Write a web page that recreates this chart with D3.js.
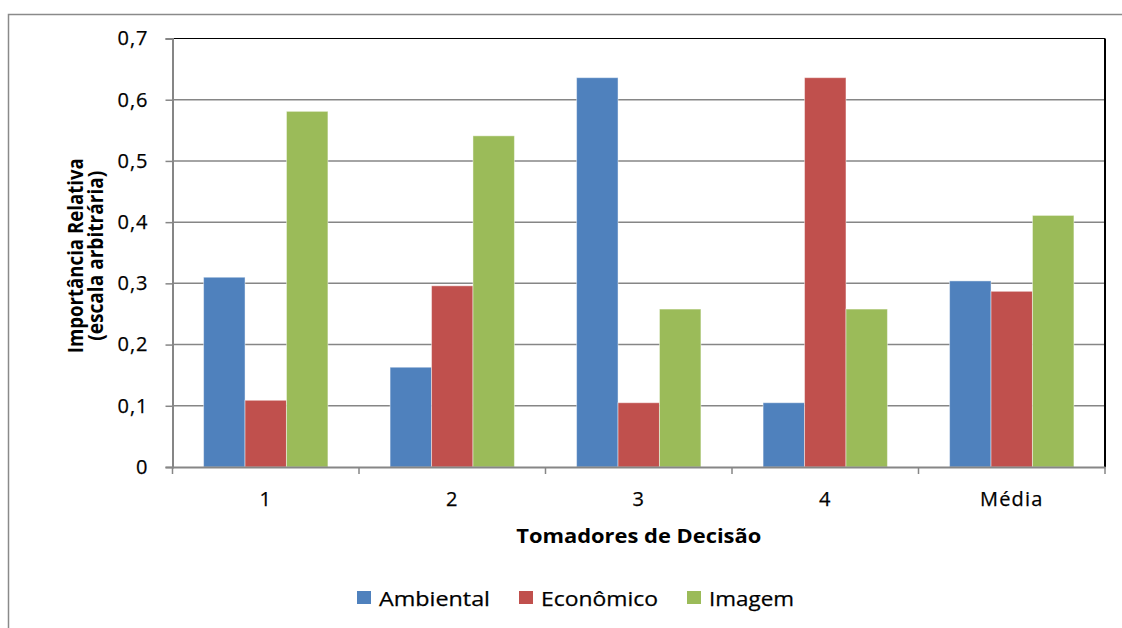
<!DOCTYPE html>
<html>
<head>
<meta charset="utf-8">
<script src="https://cdn.jsdelivr.net/npm/d3@7"></script>
<style>
  html, body { margin: 0; padding: 0; background: #fff; }
  svg { display: block; }
  text { font-family: "Open Sans", "DejaVu Sans", sans-serif; fill: #000; }
</style>
</head>
<body>
<svg id="chart" width="1122" height="628"></svg>
<script>
// Decision makers (categories) and criteria weights per series
const categories = ["1", "2", "3", "4", "Média"];
const seriesNames = ["Ambiental", "Econômico", "Imagem"];
const ambiental = [0.31, 0.163, 0.636, 0.105, 0.304];
const economico = [0.109, 0.296, 0.105, 0.636, 0.287];
const imagem = [0.581, 0.541, 0.258, 0.258, 0.411];
const seriesColors = ["#4F81BD", "#C0504D", "#9BBB59"];
const yTicks = [0, 0.1, 0.2, 0.3, 0.4, 0.5, 0.6, 0.7];
const yTickLabels = ["0", "0,1", "0,2", "0,3", "0,4", "0,5", "0,6", "0,7"];

const seriesValues = [ambiental, economico, imagem];
const rows = categories.map((c, i) => ({
  category: c,
  values: seriesNames.map((s, j) => ({ series: s, value: seriesValues[j][i], color: seriesColors[j] }))
}));

const svg = d3.select("#chart");
const plot = { left: 172.5, right: 1105, top: 38.5, bottom: 467 };

// Outer chart frame (continues past the right and bottom edges)
svg.append("rect")
  .attr("x", 8.5).attr("y", 14.5)
  .attr("width", 1200).attr("height", 700)
  .attr("fill", "#fff")
  .attr("stroke", "#8a8a8a").attr("stroke-width", 1.5);

const x0 = d3.scaleBand().domain(categories).range([plot.left, plot.right]).padding(0);
const bw = x0.bandwidth();
const barW = bw / 4.5;               // gap width 150% of a bar
const x1 = d3.scaleBand().domain(seriesNames)
  .range([barW * 0.75, bw - barW * 0.75]).padding(0);
const y = d3.scaleLinear().domain([0, 0.7]).range([plot.bottom, plot.top]);

// Horizontal gridlines
svg.append("g")
  .selectAll("line")
  .data(yTicks.filter(t => t > 0 && t < 0.7))
  .join("line")
  .attr("x1", plot.left).attr("x2", plot.right)
  .attr("y1", d => y(d)).attr("y2", d => y(d))
  .attr("stroke", "#868686").attr("stroke-width", 1.5);

// Bars
const groups = svg.append("g")
  .selectAll("g")
  .data(rows)
  .join("g")
  .attr("transform", d => `translate(${x0(d.category)},0)`);

groups.selectAll("rect")
  .data(d => d.values)
  .join("rect")
  .attr("x", d => x1(d.series))
  .attr("width", x1.bandwidth())
  .attr("y", d => y(d.value))
  .attr("height", d => y(0) - y(d.value))
  .attr("fill", d => d.color)
  .attr("stroke", "rgba(255,255,255,0.45)")
  .attr("stroke-width", 1);

// Plot border: top and right in black
svg.append("line")
  .attr("x1", plot.left).attr("x2", plot.right)
  .attr("y1", plot.top).attr("y2", plot.top)
  .attr("stroke", "#000").attr("stroke-width", 1.2);
svg.append("line")
  .attr("x1", plot.right).attr("x2", plot.right)
  .attr("y1", plot.top).attr("y2", plot.bottom)
  .attr("stroke", "#000").attr("stroke-width", 2);

// Y axis
const yAxis = d3.axisLeft(y)
  .tickValues(yTicks)
  .tickFormat((d, i) => yTickLabels[i])
  .tickSize(7)
  .tickPadding(17);
const gy = svg.append("g")
  .attr("transform", `translate(${plot.left},0)`)
  .call(yAxis);
gy.select(".domain").attr("stroke", "#868686").attr("stroke-width", 2);
gy.selectAll(".tick line").attr("stroke", "#868686").attr("stroke-width", 1.5);
gy.selectAll(".tick text")
  .style("font-family", "'Open Sans', sans-serif")
  .style("font-size", "20px")
  .style("letter-spacing", "1px")
  .attr("stroke", "#000").attr("stroke-width", 0.25)
  .attr("fill", "#000");

// X axis with ticks on category boundaries
const gx = svg.append("g")
  .attr("transform", `translate(0,${plot.bottom})`)
  .call(d3.axisBottom(x0).tickSize(0).tickPadding(25));
gx.select(".domain").attr("stroke", "#868686").attr("stroke-width", 2);
gx.selectAll(".tick text")
  .style("font-family", "'Open Sans', sans-serif")
  .style("font-size", "20px")
  .style("letter-spacing", "1.2px")
  .attr("stroke", "#000").attr("stroke-width", 0.25)
  .attr("fill", "#000");
gx.append("g")
  .selectAll("line")
  .data(categories.map(c => x0(c)).concat([plot.right]))
  .join("line")
  .attr("x1", d => d).attr("x2", d => d)
  .attr("y1", 0).attr("y2", 7)
  .attr("stroke", "#868686").attr("stroke-width", 1.5);

// Axis titles
svg.append("text")
  .attr("x", (plot.left + plot.right) / 2)
  .attr("y", 543)
  .attr("text-anchor", "middle")
  .attr("textLength", 245)
  .attr("lengthAdjust", "spacingAndGlyphs")
  .style("font-size", "20px")
  .style("font-weight", "bold")
  .text("Tomadores de Decisão");

const yTitle = svg.append("text")
  .attr("transform", `translate(83,${(plot.top + plot.bottom) / 2 + 3}) rotate(-90)`)
  .attr("text-anchor", "middle")
  .style("font-size", "21px")
  .style("font-weight", "bold");
yTitle.append("tspan")
  .attr("x", 0).attr("y", 0)
  .attr("textLength", 195)
  .attr("lengthAdjust", "spacingAndGlyphs")
  .text("Importância Relativa");
yTitle.append("tspan")
  .attr("x", 0).attr("y", 20)
  .attr("textLength", 170)
  .attr("lengthAdjust", "spacingAndGlyphs")
  .text("(escala arbitrária)");

// Legend
const legendItems = [
  { name: seriesNames[0], color: seriesColors[0], sx: 357, tx: 379, tw: 111 },
  { name: seriesNames[1], color: seriesColors[1], sx: 519, tx: 541, tw: 117 },
  { name: seriesNames[2], color: seriesColors[2], sx: 687, tx: 709, tw: 85 }
];
const legend = svg.append("g");
legend.selectAll("rect")
  .data(legendItems)
  .join("rect")
  .attr("x", d => d.sx).attr("y", 591)
  .attr("width", 14).attr("height", 13)
  .attr("fill", d => d.color);
legend.selectAll("text")
  .data(legendItems)
  .join("text")
  .attr("x", d => d.tx).attr("y", 606)
  .attr("textLength", d => d.tw)
  .attr("lengthAdjust", "spacingAndGlyphs")
  .attr("stroke", "#000").attr("stroke-width", 0.25)
  .style("font-size", "20px")
  .text(d => d.name);
</script>
</body>
</html>
